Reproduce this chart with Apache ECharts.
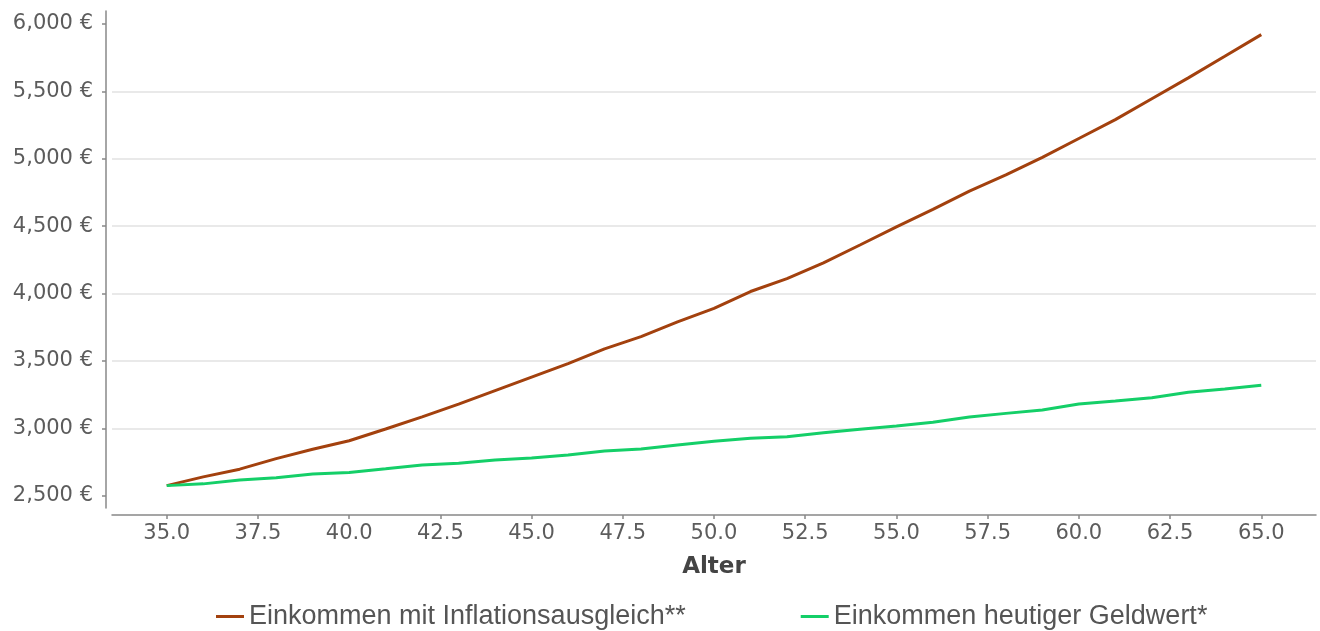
<!DOCTYPE html>
<html>
<head>
<meta charset="utf-8">
<script src="https://cdn.jsdelivr.net/npm/echarts@6/dist/echarts.min.js"></script>
<style>
  html, body { margin: 0; padding: 0; background: #fff; }
  #chart { width: 1320px; height: 631px; }
</style>
</head>
<body>
<div id="chart"></div>
<script>
// Alter (Jahre)
const ages = [35, 36, 37, 38, 39, 40, 41, 42, 43, 44, 45, 46, 47, 48, 49, 50,
  51, 52, 53, 54, 55, 56, 57, 58, 59, 60, 61, 62, 63, 64, 65];

// Einkommen mit Inflationsausgleich**
const inflationIncome = [2575, 2640, 2697, 2775, 2845, 2908, 2995, 3085, 3180, 3280,
  3380, 3480, 3590, 3680, 3790, 3890, 4015, 4110, 4228, 4360, 4495, 4625, 4760, 4880,
  5010, 5150, 5290, 5445, 5600, 5760, 5921];

// Einkommen heutiger Geldwert*
const todayIncome = [2575, 2588, 2616, 2634, 2661, 2673, 2700, 2728, 2741, 2765,
  2780, 2802, 2832, 2846, 2876, 2904, 2926, 2938, 2967, 2993, 3018, 3045, 3084, 3111,
  3136, 3180, 3203, 3227, 3267, 3292, 3320];

const xTicks = [35, 37.5, 40, 42.5, 45, 47.5, 50, 52.5, 55, 57.5, 60, 62.5, 65];
const yTicks = [2500, 3000, 3500, 4000, 4500, 5000, 5500, 6000];

const seriesNames = ['Einkommen mit Inflationsausgleich**', 'Einkommen heutiger Geldwert*'];

const chart = echarts.init(document.getElementById('chart'));

const toPairs = (vals) => ages.map((a, i) => [a, vals[i]]);

const option = {
  animation: false,
  grid: {
    left: 112,
    right: 4,
    top: 11,
    bottom: 123
  },
  legend: {
    left: 216,
    top: 603,
    padding: 0,
    itemWidth: 28,
    itemHeight: 3,
    itemGap: 115,
    icon: 'rect',
    data: seriesNames,
    textStyle: {
      fontFamily: 'Liberation Sans',
      fontSize: 27,
      color: '#555'
    }
  },
  xAxis: {
    type: 'value',
    min: 33.5,
    max: 66.5,
    offset: 7,
    name: 'Alter',
    nameLocation: 'middle',
    nameGap: 41,
    nameTextStyle: {
      fontFamily: 'DejaVu Sans',
      fontWeight: 'bold',
      fontSize: 23,
      color: '#444'
    },
    axisLine: { lineStyle: { color: '#888', width: 1.5 } },
    axisTick: {
      customValues: xTicks,
      length: 4,
      lineStyle: { color: '#888', width: 1.5 }
    },
    axisLabel: {
      customValues: xTicks,
      margin: 8,
      fontFamily: 'DejaVu Sans',
      fontSize: 21,
      color: '#5c5c5c',
      formatter: (v) => v.toFixed(1)
    },
    splitLine: { show: false }
  },
  yAxis: {
    type: 'value',
    min: 2409,
    max: 6096,
    splitNumber: 7,
    offset: 6,
    axisLine: { show: true, lineStyle: { color: '#888', width: 1.5 } },
    axisTick: {
      show: true,
      customValues: yTicks,
      length: 4,
      lineStyle: { color: '#888', width: 1.5 }
    },
    axisLabel: {
      customValues: yTicks,
      margin: 13,
      fontFamily: 'DejaVu Sans',
      fontSize: 21,
      color: '#5c5c5c',
      formatter: (v) => v.toLocaleString('en-US') + ' €'
    },
    splitLine: {
      show: true,
      showMinLine: false,
      showMaxLine: false,
      lineStyle: { color: '#e2e2e2', width: 1.5 }
    }
  },
  series: [
    {
      name: seriesNames[0],
      type: 'line',
      data: toPairs(inflationIncome),
      symbol: 'none',
      lineStyle: { color: '#a3410e', width: 3 },
      itemStyle: { color: '#a3410e' }
    },
    {
      name: seriesNames[1],
      type: 'line',
      data: toPairs(todayIncome),
      symbol: 'none',
      lineStyle: { color: '#14cf68', width: 3 },
      itemStyle: { color: '#14cf68' }
    }
  ]
};

chart.setOption(option);
</script>
</body>
</html>
